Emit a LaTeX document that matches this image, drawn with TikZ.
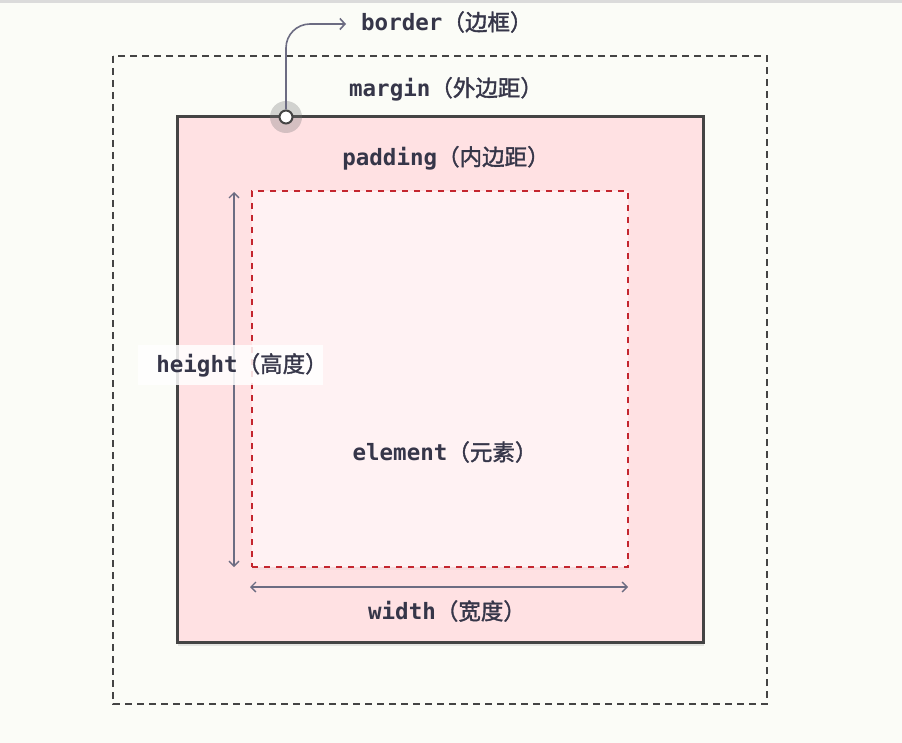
\documentclass[tikz,border=0pt]{standalone}
\usepackage{fontspec}
\setmonofont{DejaVu Sans Mono}
\newfontfamily\cjk[FakeBold=1.5]{Noto Sans CJK SC}
\usetikzlibrary{arrows.meta,shadows}
\definecolor{bgc}{HTML}{FBFCF7}
\definecolor{txt}{HTML}{363649}
\definecolor{arr}{HTML}{6C6C82}
\definecolor{pinkfill}{HTML}{FFE1E3}
\definecolor{elfill}{HTML}{FFF2F3}
\definecolor{redline}{HTML}{C4262E}
\definecolor{dark}{HTML}{444444}
\newcommand{\lbl}[2]{{\ttfamily\bfseries #1}{\cjk （#2）}}
\tikzset{
  lab/.style={font=\fontsize{22.5}{26}\selectfont, text=txt, inner sep=0pt},
  dimarrow/.style={draw=arr, line width=1.3pt, {Straight Barb[length=5pt,width=10pt]}-{Straight Barb[length=5pt,width=10pt]}},
}
\begin{document}
\begin{tikzpicture}[x=1pt,y=-1pt]
\useasboundingbox (0,0) rectangle (902,743);
\fill[bgc] (0,0) rectangle (902,743);
\fill[black!14] (0,0) rectangle (902,3);
% margin
\draw[dark, line width=2.4pt, dash pattern=on 7pt off 5pt] (113,56) rectangle (767,704);
% border box
\node[draw=dark, line width=3pt, fill=pinkfill, minimum width=526pt, minimum height=525pt, inner sep=0pt,
  drop shadow={shadow xshift=1pt, shadow yshift=-4pt, opacity=0.18}] (box) at (440,379.5) {};
% element box
\node[draw=redline, line width=2.8pt, dash pattern=on 6pt off 6pt, fill=elfill, minimum width=376pt, minimum height=376pt, inner sep=0pt,
  drop shadow={shadow xshift=0pt, shadow yshift=-3pt, opacity=0.06}] (el) at (440,379) {};
% labels
\node[lab] (margin) at (446,89) {\lbl{margin}{外边距}};
\node[lab] (padding) at (446,158) {\lbl{padding}{内边距}};
\node[lab] (element) at (445,452) {\lbl{element}{元素}};
\node[lab] (width) at (447,611) {\lbl{width}{宽度}};
\node[lab, anchor=west] (border) at (361,22) {\lbl{border}{边框}};
% dimension arrows
\coordinate (h1) at (234,192);
\coordinate (h2) at (234,567);
\draw[dimarrow] (h1) -- (h2);
\coordinate (w1) at (250,587);
\coordinate (w2) at (628,587);
\draw[dimarrow] (w1) -- (w2);
\node[fill=white, fill opacity=0.85, inner sep=0pt, minimum width=185pt, minimum height=40pt] (hbox) at (230.5,365) {};
\node[lab] (height) at (242,365) {\lbl{height}{高度}};
% border pointer
\fill[black!55, opacity=0.3] (286,117) circle (16pt);
\node[circle, draw=dark, line width=2pt, fill=white, minimum size=13pt, inner sep=0pt] (bc) at (286,117) {};
\draw[arr, line width=1.6pt, rounded corners=24pt, -{Straight Barb[length=5pt,width=11pt]}] (bc.north) |- ([xshift=-15pt,yshift=-2pt]border.west);
\end{tikzpicture}
\end{document}
